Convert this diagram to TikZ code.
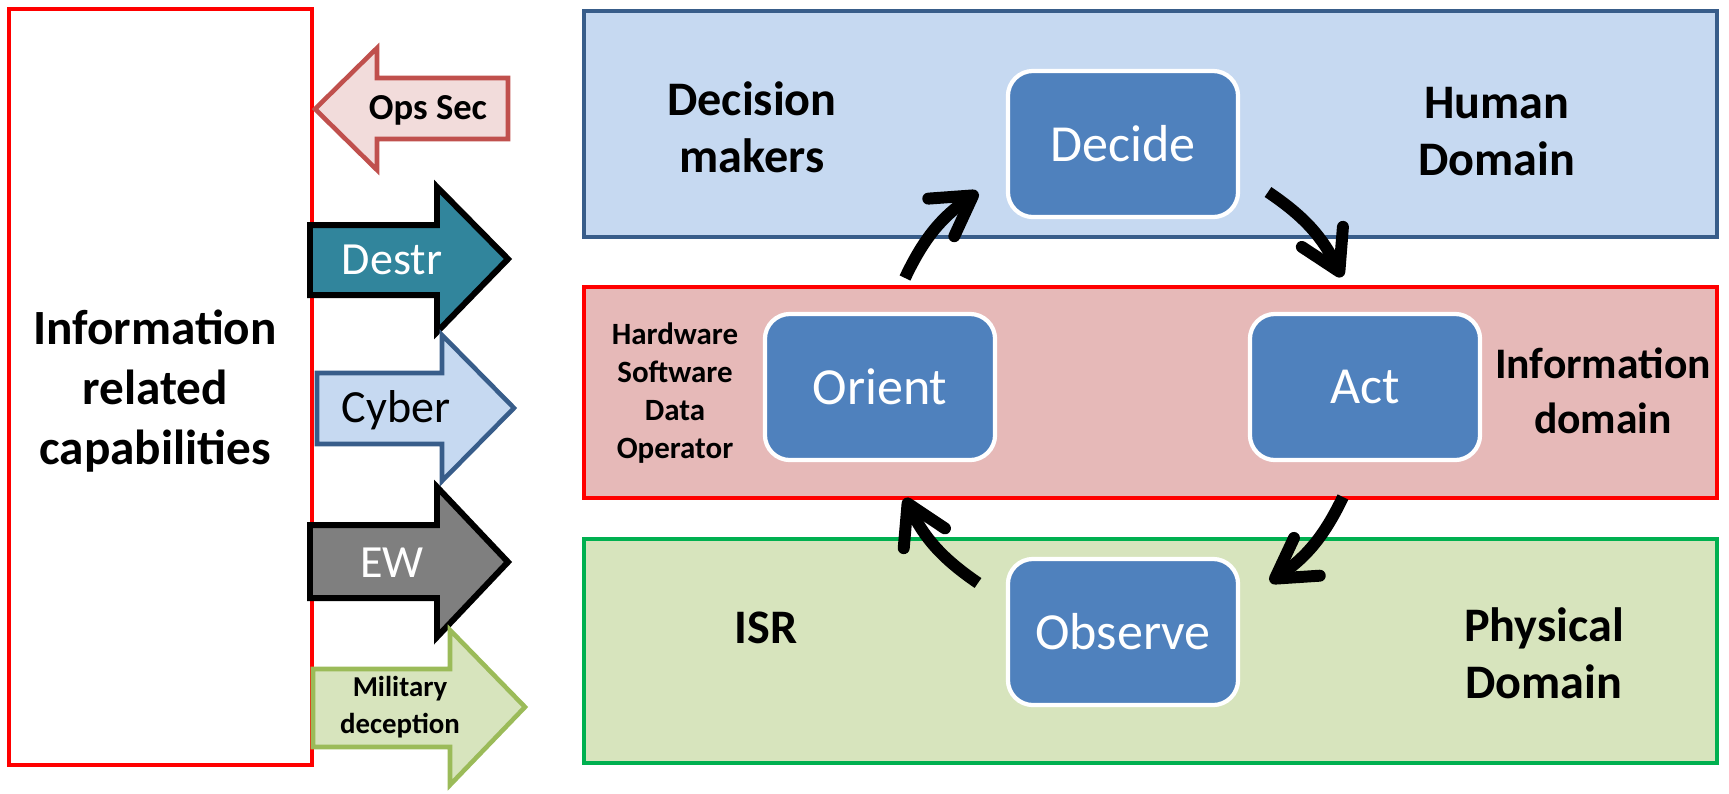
\documentclass[tikz,border=0pt]{standalone}
\usepackage{fontspec}
\setmainfont{Carlito}
\usetikzlibrary{arrows.meta}

\definecolor{humanfill}{HTML}{C6D9F1}
\definecolor{humanline}{HTML}{385D8A}
\definecolor{infofill}{HTML}{E6B9B8}
\definecolor{physfill}{HTML}{D7E4BD}
\definecolor{physline}{HTML}{00B050}
\definecolor{phasefill}{HTML}{4F81BD}
\definecolor{opsfill}{HTML}{F2DCDB}
\definecolor{opsline}{HTML}{C0504D}
\definecolor{destrfill}{HTML}{31859C}
\definecolor{ewfill}{HTML}{7F7F7F}
\definecolor{milline}{HTML}{9BBB59}

\tikzset{
  phase/.style={rectangle, rounded corners=0.25cm, draw=white, line width=1.2pt,
    fill=phasefill, text=white, minimum width=2.3cm, minimum height=1.46cm,
    font=\fontsize{14.8}{18}\selectfont},
  dom/.style={align=center, font=\fontsize{13.7}{16.2}\selectfont\bfseries},
  cyc/.style={line width=3.4pt, -{Straight Barb[length=11pt,width=13pt,round]}},
  fat/.style={line width=1.7pt, line join=miter},
  thin/.style={line width=1.3pt},
}

\begin{document}
\begin{tikzpicture}[x=0.01cm,y=0.01cm]
\useasboundingbox (0,0) rectangle (1729,-793);

\draw[red, line width=1.2pt] (9,-9) rectangle (312,-765);
\node[align=center, font=\fontsize{14}{17}\selectfont\bfseries] (irc) at (155,-391) {Information\\related\\capabilities};

% the three domains
\draw[humanline, fill=humanfill, line width=1pt] (584,-11) rectangle (1717,-237);
\draw[red, fill=infofill, line width=1.2pt] (584,-287) rectangle (1717,-498);
\draw[physline, fill=physfill, line width=1.2pt] (584,-539) rectangle (1717,-763);

% arrows on the left
\draw[thin, opsline, fill=opsfill] (315,-109) -- (377,-48) -- (377,-78) -- (508,-78) -- (508,-139) -- (377,-139) -- (377,-170) -- cycle;
\node[font=\fontsize{10.4}{12}\selectfont\bfseries] (ops) at (428,-110) {Ops Sec};

\draw[fat, fill=destrfill] (310,-225) -- (437,-225) -- (437,-187) -- (508,-259) -- (437,-332) -- (437,-295) -- (310,-295) -- cycle;
\node[text=white, font=\fontsize{13.1}{15}\selectfont] (destr) at (392,-260) {Destr};

\draw[thin, humanline, fill=humanfill] (317,-373) -- (442,-373) -- (442,-335) -- (514,-408) -- (442,-481) -- (442,-444) -- (317,-444) -- cycle;
\node[font=\fontsize{13.1}{15}\selectfont] (cyber) at (396,-410) {Cyber};

\draw[fat, fill=ewfill] (310,-525) -- (437,-525) -- (437,-487) -- (508,-562) -- (437,-637) -- (437,-598) -- (310,-598) -- cycle;
\node[text=white, font=\fontsize{13.1}{15}\selectfont] (ew) at (392,-563) {EW};

\draw[thin, milline, fill=physfill] (313,-669) -- (450,-669) -- (450,-630) -- (525,-707) -- (450,-785) -- (450,-747) -- (313,-747) -- cycle;
\node[align=center, font=\fontsize{8.2}{10.5}\selectfont\bfseries] (mil) at (400,-707) {Military\\deception};

% labels
\node[dom] (dm) at (752,-127) {Decision\\makers};
\node[dom] (hd) at (1497,-132) {Human\\Domain};
\node[dom, font=\fontsize{12.4}{15.8}\selectfont\bfseries] (id) at (1603,-391) {Information\\domain};
\node[dom] (isr) at (766,-628) {ISR};
\node[dom] (pd) at (1544,-653) {Physical\\Domain};
\node[align=center, font=\fontsize{8.8}{10.8}\selectfont\bfseries] (hw) at (675,-393) {Hardware\\Software\\Data\\Operator};

% loop
\node[phase] (decide) at (1123,-144) {Decide};
\node[phase] (orient) at (880,-387) {Orient};
\node[phase] (act) at (1365,-387) {Act};
\node[phase] (observe) at (1123,-632) {Observe};

\coordinate (a1) at (905,-278);
\coordinate (b1) at (978,-192);
\coordinate (a2) at (1268,-192);
\coordinate (b2) at (1342,-277);
\coordinate (a3) at (1343,-497);
\coordinate (b3) at (1270,-582);
\coordinate (a4) at (978,-583);
\coordinate (b4) at (905,-498);

\draw[cyc] (a1) to[bend left=15] (b1);
\draw[cyc] (a2) to[bend left=15] (b2);
\draw[cyc] (a3) to[bend left=15] (b3);
\draw[cyc] (a4) to[bend left=15] (b4);

\end{tikzpicture}
\end{document}
